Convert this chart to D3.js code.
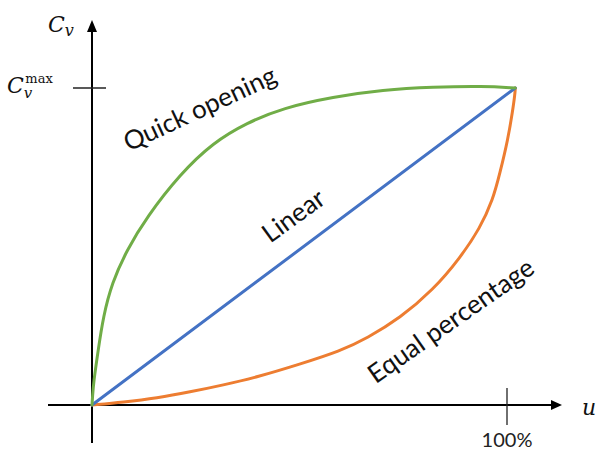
<!DOCTYPE html>
<html>
<head>
<meta charset="utf-8">
<script src="https://cdn.jsdelivr.net/npm/d3@7"></script>
<style>
  body { margin: 0; background: #fff; }
  svg { display: block; }
</style>
</head>
<body>
<div id="chart"></div>
<script>

// valve opening u (fraction of full stroke) -> flow coefficient Cv / Cv_max
var linear_u  = [0, 1.02];
var linear_cv = [0, 1.0];

var quick_u  = [0, 0.0015, 0.0036, 0.015, 0.027, 0.048, 0.084, 0.132, 0.212, 0.292, 0.373, 0.460, 0.581, 0.701, 0.822, 0.942, 1.02];
var quick_cv = [0, 0.03, 0.069, 0.174, 0.278, 0.385, 0.489, 0.593, 0.728, 0.828, 0.890, 0.937, 0.972, 0.994, 1.003, 1.006, 1.0];

var equal_u  = [0, 0.075, 0.157, 0.236, 0.316, 0.398, 0.501, 0.598, 0.663, 0.742, 0.822, 0.887, 0.935, 0.966, 0.983, 1.002, 1.014, 1.019, 1.02];
var equal_cv = [0, 0.009, 0.022, 0.041, 0.063, 0.088, 0.129, 0.170, 0.211, 0.274, 0.363, 0.464, 0.558, 0.647, 0.732, 0.836, 0.931, 0.98, 1.0];

var x_tick_values = [1];
var x_tick_labels = ["100%"];
var y_tick_values = [1];

var series_names  = ["Quick opening", "Linear", "Equal percentage"];

var width = 598, height = 452;

var svg = d3.select("#chart").append("svg")
    .attr("width", width)
    .attr("height", height);

var x = d3.scaleLinear().domain([0, 1]).range([92, 507]);
var y = d3.scaleLinear().domain([0, 1]).range([405, 88]);

function zip(us, cvs) {
  return us.map(function(u, i) { return [u, cvs[i]]; });
}

// axes with arrow heads
var x0 = x(0), y0 = y(0);
var axes = svg.append("g").attr("stroke", "#000").attr("stroke-width", 2);
axes.append("line").attr("x1", 48).attr("x2", 553).attr("y1", y0).attr("y2", y0);
axes.append("line").attr("x1", x0).attr("x2", x0).attr("y1", 443).attr("y2", 31);
svg.append("path")
    .attr("d", "M" + 562 + "," + y0 + "L" + 551 + "," + (y0 - 5) + "L" + 551 + "," + (y0 + 5) + "Z")
    .attr("fill", "#000");
svg.append("path")
    .attr("d", "M" + x0 + "," + 20 + "L" + (x0 - 5) + "," + 32 + "L" + (x0 + 5) + "," + 32 + "Z")
    .attr("fill", "#000");

// ticks
svg.selectAll(".xtick")
    .data(x_tick_values)
  .enter().append("line")
    .attr("class", "xtick")
    .attr("x1", function(d) { return x(d); })
    .attr("x2", function(d) { return x(d); })
    .attr("y1", y0 - 17).attr("y2", y0 + 20)
    .attr("stroke", "#222").attr("stroke-width", 1.3);

svg.selectAll(".xlabel")
    .data(x_tick_values)
  .enter().append("text")
    .attr("class", "xlabel")
    .attr("x", function(d) { return x(d); })
    .attr("y", 447)
    .attr("text-anchor", "middle")
    .style("font-family", "Lato, 'Open Sans', sans-serif")
    .style("font-size", "20px")
    .attr("fill", "#222")
    .text(function(d, i) { return x_tick_labels[i]; });

svg.selectAll(".ytick")
    .data(y_tick_values)
  .enter().append("line")
    .attr("class", "ytick")
    .attr("x1", x0 - 19).attr("x2", x0 + 14)
    .attr("y1", function(d) { return y(d); })
    .attr("y2", function(d) { return y(d); })
    .attr("stroke", "#222").attr("stroke-width", 1.3);

// axis titles (math style)
var serif = "'DejaVu Serif', 'Liberation Serif', serif";
var cv = svg.append("text")
    .attr("x", 48).attr("y", 32)
    .style("font-family", serif).style("font-style", "italic").style("font-size", "22px")
    .attr("fill", "#111");
cv.append("tspan").text("C");
cv.append("tspan").attr("dy", 4).style("font-size", "16px").text("v");

var cvmax = svg.append("text")
    .attr("x", 7).attr("y", y(1) + 5)
    .style("font-family", serif).style("font-size", "22px")
    .attr("fill", "#111");
cvmax.append("tspan").style("font-style", "italic").text("C");
cvmax.append("tspan").attr("dy", 5).style("font-style", "italic").style("font-size", "15px").text("v");
cvmax.append("tspan").attr("dx", -7).attr("dy", -15).style("font-size", "13px").text("max");

svg.append("text")
    .attr("x", 582).attr("y", 415)
    .style("font-family", serif).style("font-style", "italic").style("font-size", "22px")
    .attr("fill", "#111")
    .text("u");

// curves
var line = d3.line()
    .x(function(d) { return x(d[0]); })
    .y(function(d) { return y(d[1]); })
    .curve(d3.curveBasis);

var curves = [
  {data: zip(equal_u, equal_cv), color: "#ed7d31"},
  {data: zip(linear_u, linear_cv), color: "#4472c4"},
  {data: zip(quick_u, quick_cv), color: "#70ad47"}
];

svg.selectAll(".curve")
    .data(curves)
  .enter().append("path")
    .attr("class", "curve")
    .attr("d", function(d) { return line(d.data); })
    .attr("fill", "none")
    .attr("stroke", function(d) { return d.color; })
    .attr("stroke-width", 3)
    .attr("stroke-linecap", "round")
    .attr("stroke-linejoin", "round");

// rotated series labels
var labels = [
  {text: series_names[0], u: 0.269, cv: 0.909, angle: -25},
  {text: series_names[1], u: 0.498, cv: 0.574, angle: -36},
  {text: series_names[2], u: 0.877, cv: 0.243, angle: -35}
];

svg.selectAll(".serieslabel")
    .data(labels)
  .enter().append("text")
    .attr("class", "serieslabel")
    .attr("text-anchor", "middle")
    .attr("transform", function(d) {
      return "translate(" + x(d.u) + "," + y(d.cv) + ") rotate(" + d.angle + ")";
    })
    .style("font-family", "Lato, 'Open Sans', sans-serif")
    .style("font-size", "26px")
    .attr("fill", "#111")
    .text(function(d) { return d.text; });

</script>
</body>
</html>
